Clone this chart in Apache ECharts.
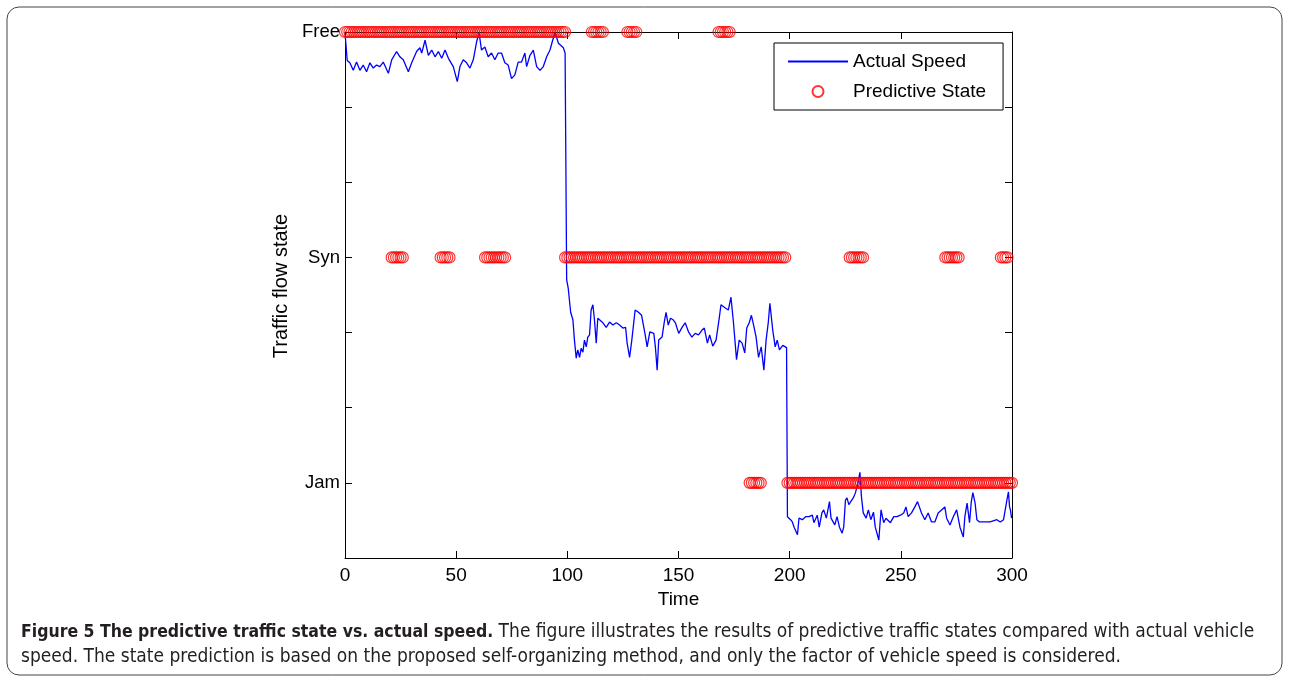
<!DOCTYPE html>
<html>
<head>
<meta charset="utf-8">
<script src="https://cdn.jsdelivr.net/npm/echarts@6/dist/echarts.min.js"></script>
<style>
  html, body { margin: 0; padding: 0; background: #fff; }
  #chart { width: 1289px; height: 681px; }
</style>
</head>
<body>
<div id="chart"></div>
<script>
// state levels on the y axis and their tick labels
const stateLevels = [1, 4, 7];
const stateNames = ['Jam', 'Syn', 'Free'];
const timeTicks = [0, 50, 100, 150, 200, 250, 300];

// actual speed, drawn on the state scale: [time, value]
const freeSpeed = [
    [0, 6.99], [1, 6.62], [2.2, 6.59], [3.7, 6.49], [5.2, 6.6], [6.7, 6.49], [8.2, 6.56], [9.7, 6.47],
    [11.2, 6.59], [12.7, 6.52], [14.2, 6.56], [15.7, 6.54], [17.2, 6.6], [19.5, 6.45], [21, 6.63],
    [23.2, 6.74], [24.7, 6.67], [26.2, 6.63], [28.5, 6.47], [30, 6.59], [32.2, 6.74], [33.7, 6.79],
    [34.5, 6.72], [36, 6.89], [37.5, 6.69], [39, 6.76], [40.5, 6.67], [42, 6.74], [43.5, 6.65],
    [45, 6.76], [46.5, 6.65], [48.7, 6.54], [50.5, 6.34], [51.7, 6.54], [53.2, 6.63], [54.7, 6.59],
    [56.2, 6.52], [57.7, 6.63], [59.2, 6.87], [60.3, 6.99], [61.4, 6.76], [62.9, 6.8], [64.4, 6.67],
    [65.9, 6.72], [67.4, 6.63], [68.9, 6.72], [70.4, 6.72], [71.9, 6.59], [73.4, 6.56], [74.9, 6.38],
    [76.4, 6.43], [77.9, 6.6], [79.4, 6.6], [80.9, 6.72], [81.7, 6.54], [83.2, 6.69], [84.7, 6.76],
    [86.2, 6.54], [87.7, 6.49], [89.2, 6.54], [90.7, 6.67], [92.2, 6.76], [93.4, 6.89], [94.5, 6.99],
    [96, 6.85], [98.2, 6.79], [99, 6.72]
];
const synSpeed = [
    [99.7, 3.7], [100.4, 3.59], [101.5, 3.27], [102.5, 3.17], [103.2, 2.9], [104, 2.66], [104.7, 2.77],
    [105.5, 2.67], [106.2, 2.79], [107, 2.74], [107.7, 2.9], [108.5, 2.81], [109.2, 2.94], [110, 2.97],
    [110.7, 3.3], [111.5, 3.37], [112.2, 3.17], [113, 2.86], [113.7, 3.19], [114.5, 3.17], [116, 3.13],
    [117.5, 3.07], [119, 3.14], [120.5, 3.1], [122, 3.13], [123.5, 3.1], [125, 3.06], [126.2, 3.07],
    [126.9, 2.86], [128, 2.67], [129, 2.9], [130.5, 3.3], [132, 3.27], [133.4, 3.23], [134.9, 2.99],
    [135.9, 2.81], [137.1, 3.01], [138.9, 2.99], [139.6, 2.81], [140.4, 2.5], [141.1, 2.9], [142.6, 2.94],
    [143.6, 3.14], [144.4, 3.27], [145.4, 3.1], [146.4, 3.19], [147.6, 3.17], [148.6, 3.13], [150.1, 2.99],
    [151.6, 3.07], [153, 3.13], [154.5, 3.01], [156, 2.94], [157.5, 2.99], [159, 2.97], [160.5, 3.03],
    [161.6, 3.06], [163, 2.86], [164, 2.97], [165.4, 2.82], [166.9, 2.9], [168.4, 3.21], [169.1, 3.37],
    [170.9, 3.33], [172.4, 3.3], [173.6, 3.47], [174.7, 3.14], [176.1, 2.64], [177.3, 2.9], [178.6, 2.86],
    [179.8, 2.73], [180.7, 3.06], [181.8, 3.13], [182.8, 3.23], [184, 3.07], [184.9, 2.94], [186, 2.67],
    [187.2, 2.81], [188.4, 2.5], [189.4, 2.9], [190.4, 3.14], [191.1, 3.39], [192.4, 3.03], [193.5, 2.81],
    [194.4, 2.9], [195.4, 2.77], [196.9, 2.83], [198.6, 2.8]
];
const jamSpeed = [
    [199, 0.55], [200.4, 0.51], [201.2, 0.48], [202, 0.41], [203.5, 0.31], [204.2, 0.53], [205.7, 0.51],
    [207.2, 0.55], [208.7, 0.55], [210.2, 0.57], [210.9, 0.47], [212.4, 0.57], [213.3, 0.41], [214.5, 0.6],
    [215.3, 0.64], [216.5, 0.53], [217.9, 0.75], [218.6, 0.53], [220.3, 0.44], [221.3, 0.55], [222.4, 0.41],
    [223.6, 0.33], [224.3, 0.41], [225.1, 0.77], [225.8, 0.8], [226.6, 0.71], [228.8, 0.81], [229.6, 0.87],
    [230.8, 1.01], [231.6, 1.14], [232.3, 0.81], [233.1, 0.6], [234.4, 0.53], [235.4, 0.64], [236.5, 0.51],
    [237.7, 0.61], [238.5, 0.41], [240.1, 0.24], [241.1, 0.64], [242.3, 0.47], [243.3, 0.53], [245.3, 0.47],
    [246.8, 0.55], [248.3, 0.55], [249.8, 0.57], [251.3, 0.6], [252.3, 0.68], [253.3, 0.55], [254.8, 0.6],
    [256.3, 0.68], [257.5, 0.75], [259.3, 0.6], [260.8, 0.51], [262.3, 0.6], [263.8, 0.48], [265.3, 0.48],
    [266.8, 0.6], [268.3, 0.64], [269.8, 0.68], [270.6, 0.53], [272.1, 0.44], [273.6, 0.55], [275.1, 0.64],
    [276.6, 0.41], [278.1, 0.28], [278.8, 0.55], [279.8, 0.73], [280.9, 0.47], [281.7, 0.75], [282.4, 0.87],
    [283.4, 0.73], [284.2, 0.51], [285.4, 0.48], [287.2, 0.48], [290.2, 0.48], [293.2, 0.51], [294.7, 0.48],
    [296.2, 0.51], [297, 0.53], [297.7, 0.77], [298.4, 0.88], [298.9, 0.68], [299.3, 0.64], [299.8, 0.53]
];

// predicted states, as runs of time steps [from, to]
const freeRuns = [[0, 99], [111, 116], [127, 131], [168, 173]];
const synRuns = [[21, 26], [43, 47], [63, 72], [99, 198], [227, 233], [270, 276], [295, 298]];
const jamRuns = [[182, 187], [199, 300]];

const runsToPoints = (runs, level) => {
    const pts = [];
    runs.forEach(r => {
        for (let t = r[0]; t <= r[1]; t++) pts.push([t, level]);
    });
    return pts;
};
const predicted = runsToPoints(freeRuns, 7)
    .concat(runsToPoints(synRuns, 4))
    .concat(runsToPoints(jamRuns, 1));
const speed = freeSpeed.concat(synSpeed, jamSpeed);

const chart = echarts.init(document.getElementById('chart'));

const sans = '"Liberation Sans", Arial, sans-serif';
const narrow = '"DejaVu Sans Condensed", "Liberation Sans", sans-serif';
const axisLine = { onZero: false, lineStyle: { color: '#000', width: 1 } };
const tick = { inside: true, length: 7, lineStyle: { color: '#000' } };

const option = {
    backgroundColor: '#fff',
    animation: false,
    grid: { left: 345, right: 277, top: 32, bottom: 123 },
    legend: {
        left: 774,
        top: 43,
        orient: 'vertical',
        selectedMode: false,
        backgroundColor: '#fff',
        borderColor: '#000',
        borderWidth: 1,
        borderRadius: 0,
        padding: [9, 17, 9, 13],
        itemWidth: 60,
        itemHeight: 11,
        itemGap: 11,
        textStyle: { fontFamily: sans, fontSize: 19, color: '#000' },
        data: [
            { name: 'Actual Speed', itemStyle: { opacity: 0 } },
            { name: 'Predictive State', icon: 'circle' }
        ]
    },
    xAxis: [{
        type: 'value',
        min: 0,
        max: 300,
        interval: 50,
        name: 'Time',
        nameLocation: 'middle',
        nameGap: 31,
        nameTextStyle: { fontFamily: sans, fontSize: 19, color: '#000' },
        axisLine: axisLine,
        axisTick: tick,
        splitLine: { show: false },
        axisLabel: {
            margin: 8,
            fontFamily: sans,
            fontSize: 19,
            color: '#000',
            formatter: v => timeTicks.indexOf(v) >= 0 ? String(v) : ''
        }
    }, {
        type: 'value',
        position: 'top',
        min: 0,
        max: 300,
        interval: 50,
        axisLine: axisLine,
        axisTick: tick,
        splitLine: { show: false },
        axisLabel: { show: false }
    }],
    yAxis: [{
        type: 'value',
        min: 0,
        max: 7,
        interval: 1,
        name: 'Traffic flow state',
        nameLocation: 'middle',
        nameGap: 52,
        nameTextStyle: { fontFamily: sans, fontSize: 20, color: '#000', padding: [0, 0, 0, 18] },
        axisLine: axisLine,
        axisTick: tick,
        splitLine: { show: false },
        axisLabel: {
            margin: 5,
            fontFamily: sans,
            fontSize: 18.5,
            color: '#000',
            formatter: v => {
                const i = stateLevels.indexOf(v);
                return i >= 0 ? stateNames[i] : '';
            }
        }
    }, {
        type: 'value',
        position: 'right',
        min: 0,
        max: 7,
        interval: 1,
        axisLine: axisLine,
        axisTick: tick,
        splitLine: { show: false },
        axisLabel: { show: false }
    }],
    series: [
        {
            name: 'Actual Speed',
            type: 'line',
            data: speed,
            showSymbol: false,
            symbol: 'none',
            lineStyle: { color: '#0000ff', width: 1.3 },
            itemStyle: { color: '#0000ff' },
            z: 3
        },
        {
            name: 'Predictive State',
            type: 'scatter',
            data: predicted,
            symbol: 'circle',
            symbolSize: 11,
            clip: false,
            itemStyle: { color: 'rgba(0,0,0,0)', borderColor: '#ff0000', borderWidth: 1.2 },
            z: 4
        }
    ],
    graphic: [
        {
            type: 'rect',
            shape: { x: 7, y: 7, width: 1275, height: 668, r: 12 },
            style: { fill: 'none', stroke: '#444', lineWidth: 1 },
            silent: true
        },
        {
            type: 'text',
            left: 21,
            top: 623,
            style: {
                text: '{b|Figure 5 The predictive traffic state vs. actual speed.}{n| The figure illustrates the results of predictive traffic states compared with actual vehicle}',
                rich: {
                    b: { fontFamily: narrow, fontSize: 17.5, fontWeight: 'bold', fill: '#231f20' },
                    n: { fontFamily: narrow, fontSize: 19, fill: '#231f20' }
                }
            }
        },
        {
            type: 'text',
            left: 21,
            top: 648,
            style: {
                text: 'speed. The state prediction is based on the proposed self-organizing method, and only the factor of vehicle speed is considered.',
                fontFamily: narrow,
                fontSize: 19,
                fill: '#231f20'
            }
        }
    ]
};

chart.setOption(option);

window.addEventListener('resize', _ => {
    chart.resize();
});
</script>
</body>
</html>
